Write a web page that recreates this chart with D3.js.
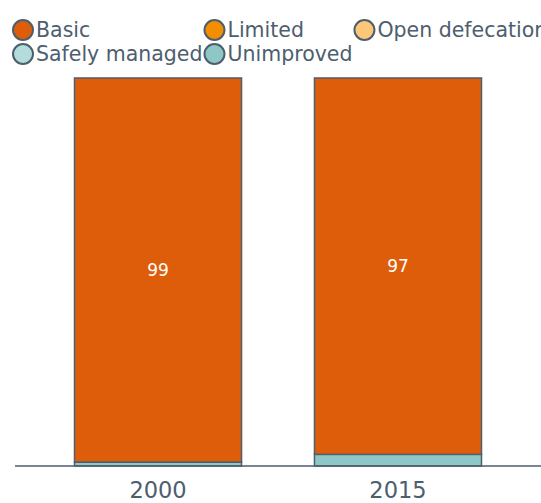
<!DOCTYPE html>
<html lang="en">
<head>
<meta charset="UTF-8">
<title>Sanitation</title>
<script src="https://d3js.org/d3.v7.min.js"></script>
<style>
  body { margin: 0; background: #fff; }
  svg { font-family: "DejaVu Sans", sans-serif; }
</style>
</head>
<body>
<svg id="chart" width="541" height="503"></svg>
<script>
// data
var years = ["2000", "2015"];
var categories = ["Basic", "Limited", "Open defecation", "Safely managed", "Unimproved"];
var colors = ["#de5d0a", "#f28e00", "#fdc77a", "#b3dcdb", "#8ec8c6"];
// stacking order from bottom up
var stackOrder = ["Unimproved", "Basic"];
var unimproved = [1, 3];
var basic = [99, 97];

var width = 541, height = 503;
var svg = d3.select("#chart");
var ink = "#4d5e6e";

var rows = years.map(function(y, i) {
  return { year: y, Unimproved: unimproved[i], Basic: basic[i] };
});

var x = d3.scaleBand().domain(years).range([15, 541])
  .paddingInner(0.304).paddingOuter(0.248);
var y = d3.scaleLinear().domain([0, 100]).range([466, 78]);
var color = d3.scaleOrdinal().domain(categories).range(colors);

var series = d3.stack().keys(stackOrder)(rows);

var g = svg.append("g");
series.forEach(function(s) {
  g.selectAll(null)
    .data(s)
    .enter()
    .append("rect")
    .attr("x", function(d) { return x(d.data.year); })
    .attr("y", function(d) { return y(d[1]); })
    .attr("width", x.bandwidth())
    .attr("height", function(d) { return y(d[0]) - y(d[1]); })
    .attr("fill", color(s.key))
    .attr("stroke", ink)
    .attr("stroke-width", 1.5);
});

// value labels on the big segment
var basicSeries = series.find(function(s) { return s.key === "Basic"; });
g.selectAll(null)
  .data(basicSeries)
  .enter()
  .append("text")
  .attr("x", function(d) { return x(d.data.year) + x.bandwidth() / 2; })
  .attr("y", function(d) { return (y(d[0]) + y(d[1])) / 2; })
  .attr("dy", "0.35em")
  .attr("text-anchor", "middle")
  .attr("fill", "#fff")
  .style("font-size", "17px")
  .text(function(d) { return d.data.Basic; });

// x axis
var xAxis = svg.append("g")
  .attr("transform", "translate(0,466)")
  .call(d3.axisBottom(x).tickSize(0).tickPadding(16));
xAxis.select(".domain").attr("stroke", ink).attr("stroke-width", 1.5)
  .attr("d", "M15,0H541");
xAxis.selectAll("text")
  .attr("fill", ink)
  .style("font-size", "22.5px")
  .style("font-family", "DejaVu Sans, sans-serif");

// legend, laid out in a 3-column grid with widths from the text
var legend = svg.append("g");
var items = legend.selectAll("g")
  .data(categories)
  .enter()
  .append("g");
items.append("circle")
  .attr("r", 10)
  .attr("cx", 10)
  .attr("cy", 0)
  .attr("fill", function(d) { return color(d); })
  .attr("stroke", ink)
  .attr("stroke-width", 2);
items.append("text")
  .attr("x", 23)
  .attr("dy", "0.35em")
  .attr("fill", ink)
  .style("font-size", "20.5px")
  .text(function(d) { return d; });

var ncol = 3;
var colW = [0, 0, 0];
items.each(function(d, i) {
  var w = 23 + this.querySelector("text").getComputedTextLength();
  colW[i % ncol] = Math.max(colW[i % ncol], w);
});
items.attr("transform", function(d, i) {
  var c = i % ncol, r = Math.floor(i / ncol);
  var off = 13;
  for (var k = 0; k < c; k++) off += colW[k] + 2;
  return "translate(" + off + "," + (30 + r * 24) + ")";
});
</script>
</body>
</html>
